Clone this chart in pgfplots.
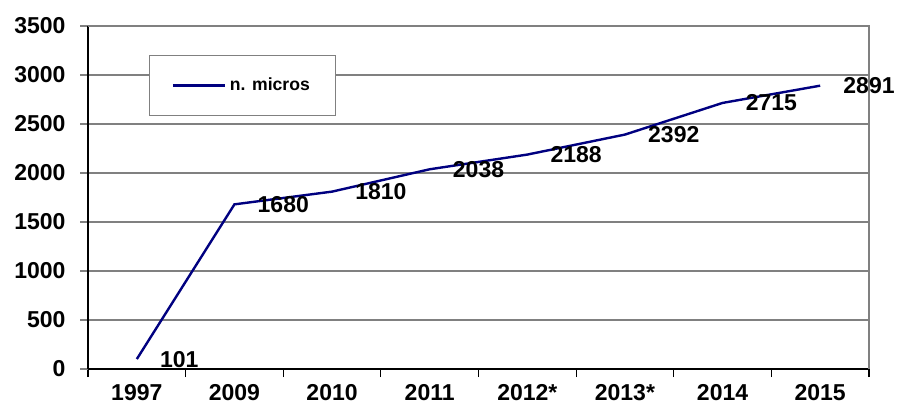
\documentclass[border=0pt]{standalone}
\usepackage{fontspec}
\setmainfont{Liberation Sans}
\usepackage{pgfplots}
\pgfplotsset{compat=1.18}
\definecolor{navyline}{RGB}{0,0,128}
\begin{document}
\begin{tikzpicture}
\useasboundingbox (-44pt,-21pt) rectangle (404.5pt,184.5pt);
\begin{axis}[
  at={(0,0)}, anchor=south west,
  scale only axis, width=390.5pt, height=171.5pt,
  xmin=-0.5, xmax=7.5, ymin=0, ymax=3500,
  axis lines=left, axis line style={-, black, line width=0.8pt},
  xtick={0,...,7},
  xticklabels={1997,2009,2010,2011,2012*,2013*,2014,2015},
  minor xtick={-0.5,0.5,...,7.5},
  ytick={0,500,...,3500},
  tick align=outside,
  major tick length=4pt, minor tick length=4pt,
  major x tick style={draw=none},
  minor x tick style={black, line width=0.6pt},
  y tick style={gray, line width=0.6pt},
  ymajorgrids, grid style={gray, line width=0.6pt},
  /pgf/number format/assume math mode=true,
  /pgf/number format/1000 sep={},
  tick label style={font=\fontsize{11.5}{13}\selectfont\bfseries},
  yticklabel style={xshift=-3.7pt},
  legend style={at={(0.0781,0.9155)}, anchor=north west, draw=gray, line width=0.6pt,
    inner xsep=11pt, inner ysep=9pt,
    font=\fontsize{8.8}{10}\selectfont\bfseries},
  legend cell align=left,
  legend image code/.code={\draw[#1, line width=1.2pt] (0pt,0pt) -- (26pt,0pt);},
  nodes near coords,
  every node near coord/.append style={anchor=west, xshift=7.7pt, text=black,
    font=\fontsize{11.5}{13}\selectfont\bfseries, /pgf/number format/assume math mode=true},
  clip=false,
]
\addplot[navyline, line width=1.2pt] coordinates {
 (0,101) (1,1680) (2,1810) (3,2038) (4,2188) (5,2392) (6,2715) (7,2891)
};
\addlegendentry{n. micros}
\draw[gray, line width=0.6pt] (rel axis cs:0,1) -- (rel axis cs:1,1) -- (rel axis cs:1,0);
\end{axis}
\end{tikzpicture}
\end{document}
